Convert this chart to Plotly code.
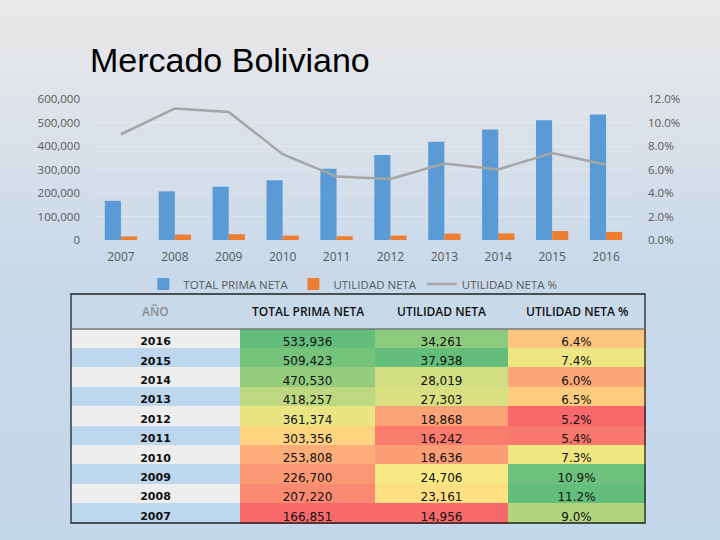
import plotly.graph_objects as go

years = ["2007", "2008", "2009", "2010", "2011", "2012", "2013", "2014", "2015", "2016"]
prima_neta = [166851, 207220, 226700, 253808, 303356, 361374, 418257, 470530, 509423, 533936]
utilidad_neta = [14956, 23161, 24706, 18636, 16242, 18868, 27303, 28019, 37938, 34261]
utilidad_pct = [0.090, 0.112, 0.109, 0.073, 0.054, 0.052, 0.065, 0.060, 0.074, 0.064]

table_headers = ["AÑO", "TOTAL PRIMA NETA", "UTILIDAD NETA", "UTILIDAD NETA %"]

W, H = 720, 540


def hex2rgb(h):
    h = h.lstrip("#")
    return [int(h[i:i + 2], 16) for i in (0, 2, 4)]


def mix(c1, c2, t):
    a, b = hex2rgb(c1), hex2rgb(c2)
    return "rgb(%d,%d,%d)" % tuple(round(a[i] + (b[i] - a[i]) * t) for i in range(3))


def scale3(vals):
    # Excel-like red / yellow / green colour scale with median midpoint
    s = sorted(vals)
    n = len(s)
    med = (s[n // 2 - 1] + s[n // 2]) / 2 if n % 2 == 0 else s[n // 2]
    lo, hi = s[0], s[-1]
    out = []
    for v in vals:
        if v <= med:
            t = (v - lo) / (med - lo) if med > lo else 1
            out.append(mix("#F8696B", "#FFEB84", t))
        else:
            t = (v - med) / (hi - med) if hi > med else 0
            out.append(mix("#FFEB84", "#63BE7B", t))
    return out


fig = go.Figure()

# gradient background
stops = [(0, "#e8e8e8"), (100, "#dfe3e9"), (270, "#c9d9ea"), (540, "#c3d7ec")]
band = 6
shapes = []
for y0 in range(0, H, band):
    yc = y0 + band / 2
    for (a, ca), (b, cb) in zip(stops[:-1], stops[1:]):
        if a <= yc <= b:
            col = mix(ca, cb, (yc - a) / (b - a))
            break
    shapes.append(dict(type="rect", xref="paper", yref="paper", x0=-0.01, x1=1.01,
                       y0=1 - (y0 + band + 1) / H, y1=1 - y0 / H,
                       fillcolor=col, line=dict(width=0), layer="below"))

fig.add_trace(go.Bar(x=years, y=prima_neta, name="TOTAL PRIMA NETA",
                     marker=dict(color="#5B9BD5", line=dict(width=0))))
fig.add_trace(go.Bar(x=years, y=utilidad_neta, name="UTILIDAD NETA",
                     marker=dict(color="#ED7D31", line=dict(width=0))))
fig.add_trace(go.Scatter(x=years, y=utilidad_pct, name="UTILIDAD NETA %", yaxis="y2",
                         mode="lines", line=dict(color="#A5A5A5", width=2.5)))

# table (rows in descending year order)
rev = list(range(len(years)))[::-1]
t_years = [years[i] for i in rev]
t_prima = [f"{prima_neta[i]:,}" for i in rev]
t_util = [f"{utilidad_neta[i]:,}" for i in rev]
t_pct = [f"{utilidad_pct[i] * 100:.1f}%" for i in rev]

col_year = ["#EEEEEE" if k % 2 == 0 else "#BDD7EE" for k in range(len(rev))]
col_prima = scale3([prima_neta[i] for i in rev])
col_util = scale3([utilidad_neta[i] for i in rev])
col_pct = scale3([utilidad_pct[i] for i in rev])
fills = [col_year, col_prima, col_util, col_pct]

col_w = [169, 135, 133, 137]
tx0 = 71

fig.add_trace(go.Table(
    domain=dict(x=[tx0 / W, 645 / W], y=[0.0, 1 - 294 / H]),
    columnwidth=col_w,
    header=dict(values=["", "", "", ""],
                fill=dict(color="rgba(0,0,0,0)"),
                line=dict(color="rgba(0,0,0,0)", width=0),
                height=35),
    cells=dict(values=[t_years, t_prima, t_util, t_pct],
               fill=dict(color=fills),
               line=dict(color=fills, width=1),
               font=dict(family="DejaVu Sans", size=[11, 12, 12, 12], color="#111111",
                         weight=["bold", "normal", "normal", "normal"]),
               align="center", height=19.4),
))

annotations = [dict(text="Mercado Boliviano", xref="paper", yref="paper",
                    x=88 / W, y=1 - 60 / H, xanchor="left", yanchor="middle",
                    showarrow=False,
                    font=dict(family="Liberation Sans", size=34, color="#000000"))]

# header labels centred in the header row
xc = tx0
for k, h in enumerate(table_headers):
    annotations.append(dict(text=h, xref="paper", yref="paper",
                            x=(xc + col_w[k] / 2) / W, y=1 - 312 / H,
                            xanchor="center", yanchor="middle", showarrow=False,
                            font=dict(family="Open Sans", size=12, weight=600,
                                      color="#8c8c8c" if k == 0 else "#111111")))
    xc += col_w[k]

# table borders
shapes.append(dict(type="rect", xref="paper", yref="paper", x0=71 / W, x1=645 / W,
                   y0=1 - 523 / H, y1=1 - 294 / H, line=dict(color="#222222", width=1.3),
                   fillcolor="rgba(0,0,0,0)", layer="above"))
shapes.append(dict(type="line", xref="paper", yref="paper", x0=71 / W, x1=645 / W,
                   y0=1 - 329 / H, y1=1 - 329 / H, line=dict(color="#777777", width=1.3),
                   layer="above"))

fig.update_layout(
    width=W, height=H,
    margin=dict(l=0, r=0, t=0, b=0, pad=0, autoexpand=False),
    paper_bgcolor="#c3d7ec",
    plot_bgcolor="rgba(0,0,0,0)",
    shapes=shapes,
    annotations=annotations,
    barmode="group", bargap=0.4, bargroupgap=0,
    font=dict(family="Open Sans", color="#595959"),
    xaxis=dict(domain=[94 / W, 633 / W], anchor="y", type="category", showgrid=False,
               showline=False, zeroline=False, ticks="", automargin=False,
               ticklabelstandoff=8, tickfont=dict(size=12, color="#595959")),
    yaxis=dict(domain=[1 - 240 / H, 1 - 99 / H], range=[0, 600000], dtick=100000,
               tickformat=",", showgrid=True, gridcolor="rgba(255,255,255,0.25)",
               zeroline=False, showline=False, ticks="", ticklabelstandoff=13,
               automargin=False, tickfont=dict(size=11.5, color="#595959")),
    yaxis2=dict(overlaying="y", side="right", anchor="x", range=[0, 0.12], dtick=0.02,
                tickformat=".1%", showgrid=False, zeroline=False, showline=False, ticks="",
                ticklabelstandoff=14, automargin=False,
                tickfont=dict(size=11.5, color="#595959")),
    showlegend=True,
    legend=dict(orientation="h", x=0.49, xanchor="center", y=1 - 284 / H, yanchor="middle",
                bgcolor="rgba(0,0,0,0)", font=dict(size=11.5, color="#595959"),
                itemwidth=30, tracegroupgap=0),
)

fig.write_html("out.html", config={"displayModeBar": False},
               post_script="document.body.style.margin='0';")
